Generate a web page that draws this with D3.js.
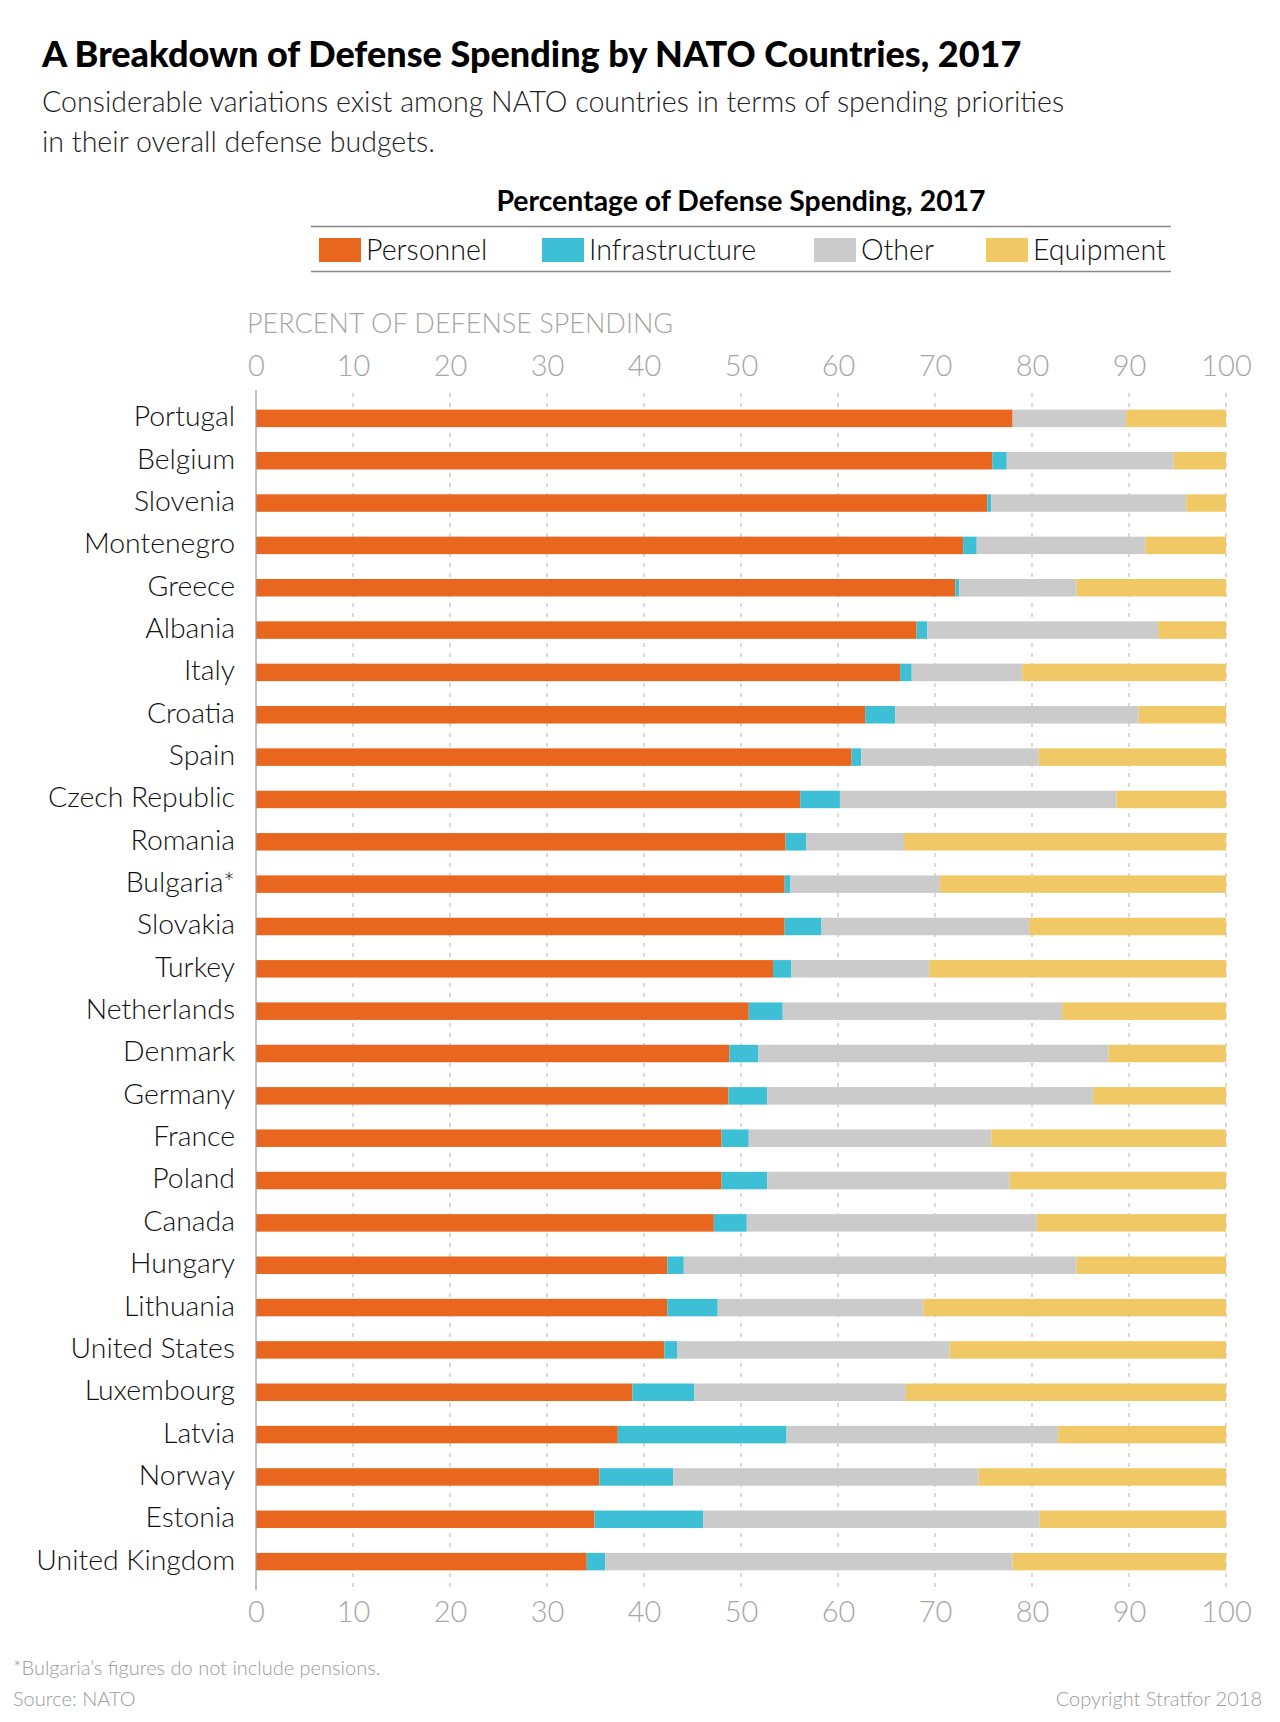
<!DOCTYPE html>
<html>
<head>
<meta charset="utf-8">
<script src="https://cdn.jsdelivr.net/npm/d3@7"></script>
<style>
  body { margin: 0; background: #fff; }
  svg { display: block; }
  .title { font-family: Lato, sans-serif; font-weight: 700; fill: #000; }
  .light { font-family: Lato, sans-serif; font-weight: 300; }
</style>
</head>
<body>
<div id="chart"></div>
<script>
  // data (percent of defense spending, 2017)
  var countries = ["Portugal", "Belgium", "Slovenia", "Montenegro", "Greece", "Albania", "Italy",
                   "Croatia", "Spain", "Czech Republic", "Romania", "Bulgaria*", "Slovakia", "Turkey",
                   "Netherlands", "Denmark", "Germany", "France", "Poland", "Canada", "Hungary",
                   "Lithuania", "United States", "Luxembourg", "Latvia", "Norway", "Estonia", "United Kingdom"];
  var personnel      = [78.0, 75.9, 75.4, 72.9, 72.1, 68.1, 66.4, 62.8, 61.4, 56.1, 54.6, 54.5, 54.5, 53.3,
                        50.8, 48.8, 48.7, 48.0, 48.0, 47.2, 42.4, 42.4, 42.1, 38.8, 37.3, 35.4, 34.9, 34.1];
  var infrastructure = [0.0, 1.5, 0.4, 1.4, 0.4, 1.1, 1.2, 3.1, 1.0, 4.1, 2.1, 0.6, 3.8, 1.9,
                        3.5, 3.0, 4.0, 2.8, 4.7, 3.4, 1.7, 5.2, 1.3, 6.4, 17.4, 7.6, 11.2, 1.9];
  var other          = [11.7, 17.2, 20.1, 17.4, 12.1, 23.8, 11.4, 25.1, 18.3, 28.5, 10.1, 15.4, 21.4, 14.2,
                        28.8, 36.1, 33.6, 25.0, 25.0, 29.9, 40.5, 21.2, 28.1, 21.8, 28.0, 31.5, 34.7, 42.0];
  var equipment      = [10.3, 5.4, 4.1, 8.3, 15.4, 7.0, 21.0, 9.0, 19.3, 11.3, 33.2, 29.5, 20.3, 30.6,
                        16.9, 12.1, 13.7, 24.2, 22.3, 19.5, 15.4, 31.2, 28.5, 33.0, 17.3, 25.5, 19.2, 22.0];

  var keys = ["Personnel", "Infrastructure", "Other", "Equipment"];
  var colors = ["#E8661E", "#3DBFD6", "#CBCBCB", "#F0C966"];
  var ticks = [0, 10, 20, 30, 40, 50, 60, 70, 80, 90, 100];

  var W = 1280, H = 1722;

  var rows = countries.map(function(c, i) {
    return {country: c, Personnel: personnel[i], Infrastructure: infrastructure[i],
            Other: other[i], Equipment: equipment[i]};
  });

  var svg = d3.select("#chart").append("svg")
      .attr("width", W)
      .attr("height", H);

  ////// headings /////////////
  svg.append("text").attr("class", "title")
      .attr("x", 42).attr("y", 67)
      .style("font-size", "36px")
      .style("font-weight", 900)
      .text("A Breakdown of Defense Spending by NATO Countries, 2017");

  var sub = ["Considerable variations exist among NATO countries in terms of spending priorities",
             "in their overall defense budgets."];
  svg.selectAll(".sub").data(sub).enter().append("text")
      .attr("class", "light sub")
      .attr("x", 42)
      .attr("y", function(d, i) { return 112 + i * 40; })
      .style("font-size", "28.6px")
      .style("fill", "#222")
      .text(function(d) { return d; });

  ////// legend /////////////
  svg.append("text").attr("class", "title")
      .attr("x", 741).attr("y", 211)
      .attr("text-anchor", "middle")
      .style("font-size", "28.4px")
      .text("Percentage of Defense Spending, 2017");

  svg.append("line").attr("x1", 311).attr("x2", 1171).attr("y1", 226.5).attr("y2", 226.5)
      .attr("stroke", "#888").attr("stroke-width", 1.5);
  svg.append("line").attr("x1", 311).attr("x2", 1171).attr("y1", 271.5).attr("y2", 271.5)
      .attr("stroke", "#888").attr("stroke-width", 1.5);

  var legendX = [319, 542, 814, 986];
  var lg = svg.selectAll(".lg").data(keys).enter().append("g")
      .attr("class", "lg")
      .attr("transform", function(d, i) { return "translate(" + legendX[i] + ",238)"; });
  lg.append("rect").attr("width", 42).attr("height", 24)
      .attr("fill", function(d, i) { return colors[i]; });
  lg.append("text").attr("class", "light")
      .attr("x", 47).attr("y", 22)
      .style("font-size", "28.6px")
      .style("fill", "#111")
      .text(function(d) { return d; });

  ////// scales /////////////
  var xScale = d3.scaleLinear().domain([0, 100]).range([256, 1226]);
  var yScale = d3.scaleBand().domain(countries)
      .range([397.2, 1582.8])
      .paddingInner(0.587)
      .paddingOuter(0.2935);

  var gridTop = 393, gridBottom = 1590;

  // axis title
  svg.append("text").attr("class", "light")
      .attr("x", 247).attr("y", 333)
      .style("font-size", "27px")
      .style("fill", "#a6a6a6")
      .text("PERCENT OF DEFENSE SPENDING");

  // gridlines
  svg.append("g").selectAll("line")
      .data(ticks.slice(1))
      .enter().append("line")
      .attr("x1", function(d) { return xScale(d); })
      .attr("x2", function(d) { return xScale(d); })
      .attr("y1", gridTop).attr("y2", gridBottom)
      .attr("stroke", "#b5b5b5")
      .attr("stroke-dasharray", "4,6");

  ////// axes /////////////
  var topAxis = d3.axisTop(xScale).tickValues(ticks).tickSize(0).tickPadding(0);
  var bottomAxis = d3.axisBottom(xScale).tickValues(ticks).tickSize(0).tickPadding(0);

  var gTop = svg.append("g").attr("transform", "translate(0,376)").call(topAxis);
  var gBot = svg.append("g").attr("transform", "translate(0,1622)").call(bottomAxis);
  [gTop, gBot].forEach(function(g) {
    g.select(".domain").remove();
    g.selectAll("text")
      .attr("dy", 0)
      .attr("y", 0)
      .style("font-family", "Lato, sans-serif")
      .style("font-weight", 300)
      .style("font-size", "29px")
      .style("fill", "#a6a6a6");
  });

  ////// bars /////////////
  var stacked = d3.stack().keys(keys)(rows);

  svg.append("g").selectAll("g")
      .data(stacked)
      .enter().append("g")
      .attr("fill", function(d, i) { return colors[i]; })
      .selectAll("rect")
      .data(function(d) { return d; })
      .enter().append("rect")
      .attr("x", function(d) { return xScale(d[0]); })
      .attr("y", function(d) { return yScale(d.data.country); })
      .attr("width", function(d) { return xScale(d[1]) - xScale(d[0]); })
      .attr("height", yScale.bandwidth());

  // zero line
  svg.append("line")
      .attr("x1", xScale(0)).attr("x2", xScale(0))
      .attr("y1", gridTop - 3).attr("y2", gridBottom)
      .attr("stroke", "#999").attr("stroke-width", 1.2);

  // country labels
  svg.append("g").selectAll("text")
      .data(countries)
      .enter().append("text")
      .attr("class", "light")
      .attr("x", 235)
      .attr("y", function(d) { return yScale(d) + yScale.bandwidth() / 2; })
      .attr("dy", "0.28em")
      .attr("text-anchor", "end")
      .style("font-size", "28.4px")
      .style("fill", "#111")
      .text(function(d) { return d; });

  ////// notes /////////////
  svg.append("text").attr("class", "light")
      .attr("x", 13).attr("y", 1675)
      .style("font-size", "20px").style("fill", "#9a9a9a")
      .text("*Bulgaria\u2019s figures do not include pensions.");
  svg.append("text").attr("class", "light")
      .attr("x", 13).attr("y", 1706)
      .style("font-size", "20px").style("fill", "#9a9a9a")
      .text("Source: NATO");
  svg.append("text").attr("class", "light")
      .attr("x", 1262).attr("y", 1706)
      .attr("text-anchor", "end")
      .style("font-size", "20px").style("fill", "#9a9a9a")
      .text("Copyright Stratfor 2018");
</script>
</body>
</html>
